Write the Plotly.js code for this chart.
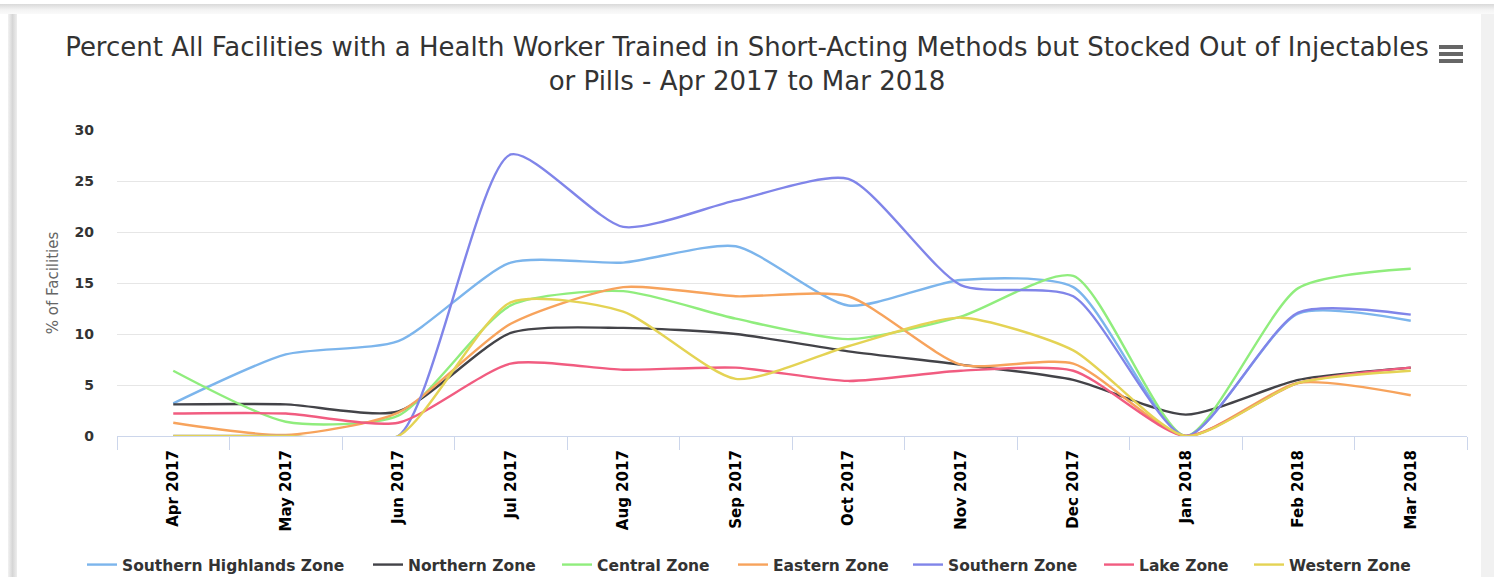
<!DOCTYPE html>
<html>
<head>
<meta charset="utf-8">
<script src="https://cdn.plot.ly/plotly-3.0.1.min.js"></script>
<style>
  html, body { margin: 0; padding: 0; background: #ffffff; width: 1494px; height: 577px; overflow: hidden; }
  #topshade { position: absolute; left: 0; top: 4px; width: 1494px; height: 10px;
    background: linear-gradient(#d9d9d9, #f4f4f4 60%, #fafafa); }
  #leftshade { position: absolute; left: 8px; top: 14px; width: 9px; height: 563px;
    background: linear-gradient(90deg, #f2f2f2, #d6d6d6 50%, #eeeeee); }
  #rightshade { position: absolute; left: 1481px; top: 14px; width: 13px; height: 563px; background: #f1f1f1; }
  #card { position: absolute; left: 17px; top: 20px; width: 1464px; height: 557px; background: #ffffff; }
  #chart { position: absolute; left: 0; top: 0; width: 1494px; height: 577px; }
</style>
</head>
<body>
<div id="topshade"></div>
<div id="leftshade"></div>
<div id="rightshade"></div>
<div id="card"></div>
<div id="chart"></div>
<script>
const months = ["Apr 2017","May 2017","Jun 2017","Jul 2017","Aug 2017","Sep 2017","Oct 2017","Nov 2017","Dec 2017","Jan 2018","Feb 2018","Mar 2018"];

const southernHighlands = [3.2, 8.0, 9.3, 17.0, 17.0, 18.6, 12.8, 15.3, 14.6, 0, 12.0, 11.3];
const northern          = [3.1, 3.1, 2.4, 10.1, 10.6, 10.0, 8.3, 7.0, 5.5, 2.1, 5.5, 6.7];
const central           = [6.4, 1.4, 2.0, 12.8, 14.2, 11.5, 9.5, 11.7, 15.7, 0, 14.5, 16.4];
const eastern           = [1.3, 0.1, 2.3, 11.0, 14.6, 13.7, 13.7, 7.0, 7.1, 0, 5.2, 4.0];
const southern          = [0, 0, 0, 27.6, 20.5, 23.1, 25.2, 14.8, 13.7, 0, 12.1, 11.9];
const lake              = [2.2, 2.2, 1.3, 7.1, 6.5, 6.7, 5.4, 6.4, 6.4, 0, 5.2, 6.7];
const western           = [0, 0, 0, 13.1, 12.2, 5.6, 8.8, 11.6, 8.4, 0, 5.2, 6.4];

const seriesNames  = ["Southern Highlands Zone","Northern Zone","Central Zone","Eastern Zone","Southern Zone","Lake Zone","Western Zone"];
const seriesValues = [southernHighlands, northern, central, eastern, southern, lake, western];
const seriesColors = ["#7cb5ec","#434348","#90ed7d","#f7a35c","#8085e9","#f15c80","#e4d354"];

const FONT = "DejaVu Sans, Verdana, sans-serif";
const W = 1494, H = 577;

// legend entry label start positions (px, container) — layout only
const legendTextX = [121, 407, 596, 772, 947, 1138, 1288];

const traces = seriesNames.map((name, i) => ({
  type: "scatter",
  mode: "lines",
  name: name,
  legend: i === 0 ? "legend" : "legend" + (i + 1),
  x: months,
  y: seriesValues[i],
  line: { color: seriesColors[i], width: 2.4, shape: "spline", smoothing: 0.65 },
  hoverinfo: "x+y+name"
}));

const layout = {
  width: W,
  height: H,
  paper_bgcolor: "rgba(0,0,0,0)",
  plot_bgcolor: "#ffffff",
  margin: { l: 117, r: 27, t: 130, b: 141 },
  font: { family: FONT, color: "#333333" },
  title: {
    text: "Percent All Facilities with a Health Worker Trained in Short-Acting Methods but Stocked Out of Injectables<br>or Pills - Apr 2017 to Mar 2018",
    font: { family: FONT, size: 26, color: "#333333" },
    x: 0.5, xref: "container", xanchor: "center",
    y: 1 - 56/577, yref: "container", yanchor: "top"
  },
  xaxis: {
    type: "category",
    range: [-0.5, 11.5],
    showgrid: false,
    showline: true,
    linecolor: "#ccd6eb",
    linewidth: 1.3,
    ticks: "outside",
    tickson: "boundaries",
    ticklen: 13,
    tickcolor: "#ccd6eb",
    tickwidth: 1.3,
    tickangle: -90,
    ticklabelstandoff: 7,
    tickfont: { family: FONT, size: 15, color: "#000000", weight: "bold" },
    zeroline: false,
    fixedrange: true
  },
  yaxis: {
    range: [0, 30],
    dtick: 5,
    showgrid: true,
    gridcolor: "#e6e6e6",
    gridwidth: 1.3,
    zeroline: false,
    showline: false,
    ticks: "",
    ticklabelstandoff: 22,
    tickfont: { family: FONT, size: 14, color: "#333333", weight: "bold" },
    title: { text: "% of Facilities", font: { family: FONT, size: 15, color: "#666666" }, standoff: 12 },
    fixedrange: true
  },
  showlegend: true,
  shapes: [
    { type: "rect", xref: "paper", yref: "paper", xsizemode: "pixel", ysizemode: "pixel",
      xanchor: 1, yanchor: 1, x0: -28, x1: -4, y0: 81, y1: 85, fillcolor: "#666666", line: { width: 0 } },
    { type: "rect", xref: "paper", yref: "paper", xsizemode: "pixel", ysizemode: "pixel",
      xanchor: 1, yanchor: 1, x0: -28, x1: -4, y0: 74, y1: 78, fillcolor: "#666666", line: { width: 0 } },
    { type: "rect", xref: "paper", yref: "paper", xsizemode: "pixel", ysizemode: "pixel",
      xanchor: 1, yanchor: 1, x0: -28, x1: -4, y0: 67, y1: 71, fillcolor: "#666666", line: { width: 0 } }
  ]
};

legendTextX.forEach((tx, i) => {
  const key = i === 0 ? "legend" : "legend" + (i + 1);
  layout[key] = {
    orientation: "h",
    xref: "container", yref: "container",
    x: (tx - 39) / W, xanchor: "left",
    y: (H - 565) / H, yanchor: "middle",
    font: { family: FONT, size: 15.5, color: "#333333", weight: "bold" },
    bgcolor: "rgba(0,0,0,0)",
    itemwidth: 30
  };
});

Plotly.newPlot("chart", traces, layout, { displayModeBar: false, responsive: false });
</script>
</body>
</html>
